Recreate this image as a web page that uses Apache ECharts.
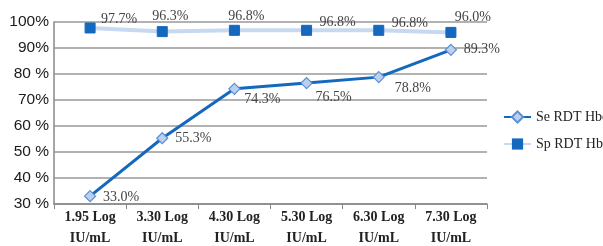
<!DOCTYPE html>
<html>
<head>
<meta charset="utf-8">
<script src="https://cdn.jsdelivr.net/npm/echarts@6/dist/echarts.min.js"></script>
<style>
  html, body { margin: 0; padding: 0; background: #fff; }
  #chart { width: 603px; height: 246px; }
</style>
</head>
<body>
<div id="chart"></div>
<script>
var categories = ['1.95 Log\nIU/mL', '3.30 Log\nIU/mL', '4.30 Log\nIU/mL', '5.30 Log\nIU/mL', '6.30 Log\nIU/mL', '7.30 Log\nIU/mL'];
var seValues = [33.0, 55.3, 74.3, 76.5, 78.8, 89.3];
var spValues = [97.7, 96.3, 96.8, 96.8, 96.8, 96.0];
var yTickLabels = {30: '30 %', 40: '40 %', 50: '50 %', 60: '60 %', 70: '70%', 80: '80 %', 90: '90%', 100: '100%'};

// label offsets from the point centre
var seLabelOffset = [[31, 1], [31, 0], [28, 11], [27, 14], [34, 11], [31, 0]];
var spLabelOffset = [[29, -9], [8, -15], [12, -14], [31, -8], [31, -7], [22, -15]];

function withLabels(values, offsets) {
  var result = [];
  for (var i = 0; i < values.length; i++) {
    result.push({
      value: values[i],
      label: { position: 'inside', offset: offsets[i] }
    });
  }
  return result;
}

var labelStyle = {
  show: true,
  color: '#444',
  fontSize: 14,
  fontFamily: 'Liberation Serif',
  formatter: function (p) { return p.value.toFixed(1) + '%'; }
};

echarts.init(document.getElementById('chart')).setOption({
  animation: false,
  grid: { left: 54, right: 116, top: 22, bottom: 42, outerBoundsMode: 'none', containLabel: false },
  legend: {
    orient: 'vertical',
    left: 503,
    top: 110,
    padding: 0,
    itemGap: 13,
    itemWidth: 27,
    itemHeight: 14,
    textStyle: { fontFamily: 'Liberation Serif', fontSize: 14, color: '#222' },
    data: ['Se RDT Hbe', 'Sp RDT Hbe']
  },
  xAxis: {
    type: 'category',
    data: categories,
    boundaryGap: true,
    axisLine: { lineStyle: { color: '#888', width: 1.5 } },
    axisTick: { show: true, length: 5, lineStyle: { color: '#888' } },
    axisLabel: {
      interval: 0,
      color: '#222',
      fontSize: 14,
      fontWeight: 'bold',
      fontFamily: 'Liberation Serif',
      lineHeight: 21,
      margin: 3
    }
  },
  yAxis: {
    type: 'value',
    min: 30,
    max: 100,
    interval: 10,
    axisLine: { show: true, lineStyle: { color: '#888', width: 1.5 } },
    axisTick: { show: false },
    splitLine: { lineStyle: { color: '#999', width: 1.5 } },
    axisLabel: {
      color: '#1a1a1a',
      fontSize: 15.5,
      fontFamily: 'Liberation Sans',
      margin: 5,
      formatter: function (v) { return yTickLabels[v]; }
    }
  },
  series: [
    {
      name: 'Se RDT Hbe',
      type: 'line',
      data: withLabels(seValues, seLabelOffset),
      symbol: 'diamond',
      symbolSize: 11,
      lineStyle: { color: '#1468BE', width: 3 },
      itemStyle: { color: '#BCD0EE', borderColor: '#5B8FD6', borderWidth: 1.2 },
      label: labelStyle,
      z: 3
    },
    {
      name: 'Sp RDT Hbe',
      type: 'line',
      data: withLabels(spValues, spLabelOffset),
      symbol: 'rect',
      symbolSize: 10,
      lineStyle: { color: '#C6D9F1', width: 4 },
      itemStyle: { color: '#1468BE', borderColor: '#1468BE' },
      label: labelStyle,
      z: 2
    }
  ]
});
</script>
</body>
</html>
